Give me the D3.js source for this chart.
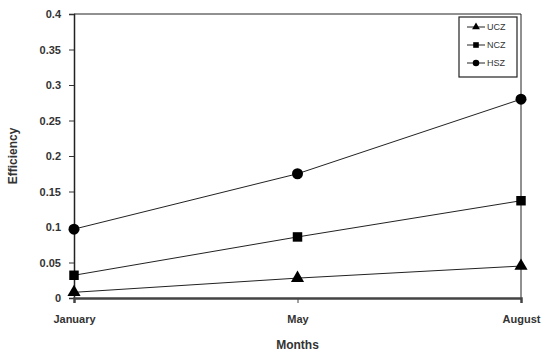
<!DOCTYPE html>
<html>
<head>
<meta charset="utf-8">
<script src="https://cdn.jsdelivr.net/npm/d3@7"></script>
<style>
body { margin: 0; background: #fff; }
text { font-family: "Liberation Sans", Arial, sans-serif; }
</style>
</head>
<body>
<div id="chart"></div>
<script>
// data
const months = ["January", "May", "August"];
const seriesNames = ["UCZ", "NCZ", "HSZ"];
const ucz = [0.008, 0.028, 0.045];
const ncz = [0.032, 0.086, 0.137];
const hsz = [0.097, 0.175, 0.280];
const yTicks = [0, 0.05, 0.1, 0.15, 0.2, 0.25, 0.3, 0.35, 0.4];

const seriesValues = [ucz, ncz, hsz];
const symbols = [d3.symbolTriangle, d3.symbolSquare, d3.symbolCircle];
const symbolSizes = [75, 90, 95];

const width = 543, height = 353;
const margin = {top: 14, right: 22, bottom: 55, left: 74};

const svg = d3.select("#chart").append("svg")
    .attr("width", width)
    .attr("height", height);

const x = d3.scalePoint(months, [margin.left, width - margin.right]);
const y = d3.scaleLinear([0, 0.4], [height - margin.bottom, margin.top]);

// plot frame (top and right)
svg.append("path")
    .attr("d", `M${margin.left},${margin.top}H${width - margin.right}V${height - margin.bottom}`)
    .attr("fill", "none")
    .attr("stroke", "#222")
    .attr("stroke-width", 1);

// y axis
svg.append("g")
    .attr("transform", `translate(${margin.left},0)`)
    .call(d3.axisLeft(y).tickValues(yTicks).tickFormat(d => d3.format("")(+d.toFixed(2))).tickSizeOuter(0).tickSize(5).tickPadding(8))
    .call(g => g.select(".domain").attr("stroke", "#222").attr("stroke-width", 1.5))
    .call(g => g.selectAll(".tick line").attr("stroke", "#333"))
    .call(g => g.selectAll(".tick text")
        .attr("font-size", 11)
        .attr("font-weight", "bold")
        .attr("fill", "#333"));

// x axis
svg.append("g")
    .attr("transform", `translate(0,${height - margin.bottom})`)
    .call(d3.axisBottom(x).tickSizeOuter(0).tickSize(5).tickPadding(12))
    .call(g => g.select(".domain").attr("stroke", "#444").attr("stroke-width", 2.5))
    .call(g => g.selectAll(".tick line").attr("stroke", "#444"))
    .call(g => g.selectAll(".tick text")
        .attr("font-size", 11)
        .attr("font-weight", "bold")
        .attr("fill", "#333"));

// axis titles
svg.append("text")
    .attr("x", (margin.left + width - margin.right) / 2)
    .attr("y", 349)
    .attr("text-anchor", "middle")
    .attr("font-size", 12)
    .attr("font-weight", "bold")
    .attr("fill", "#333")
    .text("Months");

svg.append("text")
    .attr("transform", `translate(17,${(margin.top + height - margin.bottom) / 2}) rotate(-90)`)
    .attr("text-anchor", "middle")
    .attr("font-size", 12)
    .attr("font-weight", "bold")
    .attr("fill", "#333")
    .text("Efficiency");

// series lines and markers
const line = d3.line().x((d, i) => x(months[i])).y(d => y(d));

seriesValues.forEach((vals, s) => {
    svg.append("path")
        .attr("d", line(vals))
        .attr("fill", "none")
        .attr("stroke", "#222")
        .attr("stroke-width", 1);
    svg.append("g")
        .selectAll("path")
        .data(vals)
        .join("path")
        .attr("transform", (d, i) => `translate(${x(months[i])},${y(d)})`)
        .attr("d", d3.symbol(symbols[s], symbolSizes[s]))
        .attr("fill", "#000");
});

// legend
const legend = svg.append("g").attr("transform", "translate(459,17)");
legend.append("rect")
    .attr("width", 58)
    .attr("height", 60)
    .attr("fill", "#fff")
    .attr("stroke", "#222")
    .attr("stroke-width", 1.2);

seriesNames.forEach((name, s) => {
    const ly = 10 + s * 18;
    legend.append("line")
        .attr("x1", 8).attr("x2", 26)
        .attr("y1", ly).attr("y2", ly)
        .attr("stroke", "#222");
    legend.append("path")
        .attr("transform", `translate(17,${ly})`)
        .attr("d", d3.symbol(symbols[s], symbolSizes[s] * 0.35))
        .attr("fill", "#000");
    legend.append("text")
        .attr("x", 28)
        .attr("y", ly)
        .attr("dy", "0.35em")
        .attr("font-size", 9)
        .attr("fill", "#333")
        .text(name);
});
</script>
</body>
</html>
